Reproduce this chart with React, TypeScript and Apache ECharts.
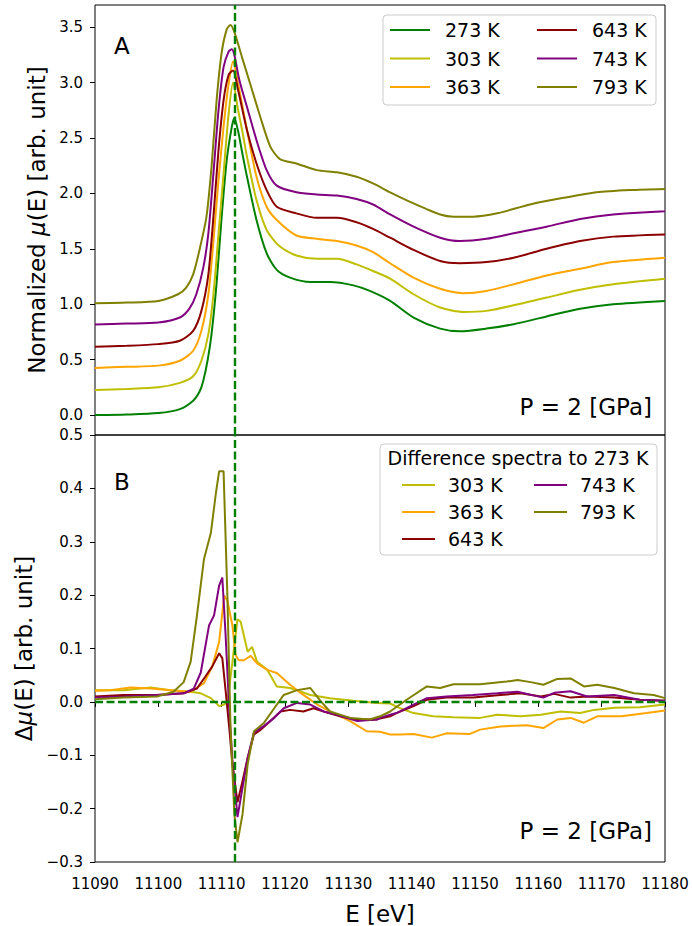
import React, { useEffect, useRef } from "react";
import * as echarts from "echarts";

const FONT = "DejaVu Sans";

const names = ["273 K", "303 K", "363 K", "643 K", "743 K", "793 K"];
const colors = ["#008000", "#bfbf00", "#ffa500", "#8b0000", "#800080", "#808000"];

const xTicks = [11090, 11100, 11110, 11120, 11130, 11140, 11150, 11160, 11170, 11180];
const yTicksTop = [0, 0.5, 1, 1.5, 2, 2.5, 3, 3.5];
const yTicksBottom = [-0.3, -0.2, -0.1, 0, 0.1, 0.2, 0.3, 0.4, 0.5];
const edgeEnergy = 11112;

// Panel A: normalized mu(E)
const mu273: [number, number][] = [[11090,0.00],[11095,0.005],[11100,0.018],[11103.4,0.054],[11105.5,0.13],[11106.5,0.21],[11107.1,0.31],[11107.8,0.50],[11108.4,0.73],[11109.2,1.19],[11110.0,1.79],[11110.8,2.30],[11111.6,2.60],[11112.0,2.68],[11112.6,2.56],[11113.3,2.35],[11114.0,2.15],[11115.5,1.76],[11117.1,1.46],[11118.7,1.31],[11120.8,1.24],[11124,1.20],[11127.1,1.20],[11130.8,1.17],[11133.4,1.12],[11136.6,1.03],[11140.3,0.88],[11144.5,0.78],[11147.6,0.756],[11151.8,0.78],[11156.1,0.82],[11161.3,0.89],[11166.6,0.96],[11171.8,1.00],[11180,1.03]];
const mu303: [number, number][] = [[11090,0.226],[11095,0.235],[11100,0.25],[11103.4,0.29],[11105.5,0.35],[11106.8,0.49],[11107.9,0.73],[11108.7,1.09],[11109.5,1.63],[11110.3,2.18],[11111.1,2.72],[11111.8,3.00],[11112.6,2.75],[11113.3,2.55],[11114,2.33],[11115.5,1.94],[11117.1,1.67],[11119.2,1.52],[11121.8,1.44],[11125,1.41],[11128.2,1.41],[11131.3,1.36],[11133.9,1.30],[11136.6,1.23],[11140.3,1.09],[11144.5,0.97],[11148.2,0.93],[11151.8,0.94],[11156.1,0.99],[11161.3,1.06],[11166.6,1.13],[11171.8,1.18],[11180,1.23]];
const mu363: [number, number][] = [[11090,0.425],[11095,0.435],[11100,0.446],[11103.4,0.49],[11105.5,0.58],[11106.8,0.76],[11107.9,1.09],[11108.7,1.57],[11109.5,2.12],[11110.3,2.60],[11111.1,2.99],[11111.8,3.19],[11112.6,2.99],[11113.3,2.78],[11114,2.57],[11115.5,2.15],[11117.1,1.88],[11118.7,1.76],[11121.8,1.62],[11125,1.59],[11128.2,1.57],[11131.3,1.53],[11133.9,1.47],[11136.6,1.37],[11140.3,1.24],[11144.5,1.14],[11148.2,1.10],[11151.8,1.12],[11156.1,1.18],[11161.3,1.26],[11166.6,1.32],[11171.8,1.38],[11180,1.42]];
const mu643: [number, number][] = [[11090,0.617],[11095,0.625],[11100,0.64],[11103.4,0.67],[11105.5,0.76],[11106.8,0.94],[11107.9,1.27],[11108.7,1.79],[11109.5,2.39],[11110.3,2.84],[11111.1,3.07],[11111.8,3.11],[11112.6,2.93],[11114,2.57],[11115.5,2.27],[11117.1,2.03],[11118.7,1.88],[11121.8,1.82],[11125,1.78],[11128.2,1.78],[11131.3,1.74],[11133.9,1.68],[11136.6,1.60],[11140.3,1.49],[11144.5,1.39],[11147.6,1.37],[11151.8,1.38],[11156.1,1.42],[11161.3,1.50],[11166.6,1.57],[11171.8,1.61],[11180,1.63]];
const mu743: [number, number][] = [[11090,0.816],[11095,0.825],[11100,0.835],[11103.4,0.88],[11104.9,0.96],[11106,1.09],[11107.1,1.33],[11107.9,1.64],[11108.7,2.18],[11109.5,2.75],[11110.3,3.14],[11111.1,3.28],[11111.6,3.30],[11112,3.25],[11112.8,3.02],[11114,2.78],[11115.5,2.48],[11117.1,2.21],[11118.7,2.07],[11121.8,2.01],[11125,1.99],[11128.2,1.98],[11131.3,1.95],[11133.9,1.90],[11136.6,1.81],[11140.3,1.70],[11144.5,1.60],[11147.6,1.57],[11151.8,1.59],[11156.1,1.64],[11161.3,1.70],[11166.6,1.77],[11171.8,1.81],[11180,1.84]];
const mu793: [number, number][] = [[11090,1.009],[11095,1.015],[11100,1.03],[11103.1,1.09],[11104.4,1.15],[11105.5,1.27],[11106.5,1.49],[11107.6,1.79],[11108.4,2.24],[11109.2,2.84],[11110,3.27],[11110.8,3.48],[11111.4,3.52],[11112.1,3.44],[11113.2,3.23],[11114.5,2.99],[11116.1,2.69],[11117.7,2.42],[11119.2,2.31],[11121.8,2.27],[11125,2.21],[11128.2,2.19],[11131.3,2.15],[11133.9,2.09],[11136.6,2.01],[11140.3,1.91],[11144.5,1.81],[11146.6,1.79],[11149.7,1.79],[11153.5,1.82],[11158.7,1.90],[11164,1.96],[11169.2,2.01],[11174.5,2.03],[11180,2.04]];

// Panel B: difference spectra to 273 K
const d303: [number, number][] = [[11090,0.022],[11094.5,0.022],[11098.8,0.027],[11101.9,0.022],[11105.1,0.019],[11106.7,0.016],[11108.3,0.007],[11109.6,-0.008],[11110.4,-0.005],[11110.9,0.0],[11111.7,0.075],[11112.5,0.155],[11113.0,0.150],[11114.1,0.094],[11114.8,0.103],[11115.6,0.075],[11117.2,0.060],[11118.7,0.029],[11120.8,0.026],[11124,0.013],[11127.1,0.007],[11130.8,0.002],[11134.5,-0.002],[11136.6,-0.003],[11138.2,-0.012],[11140.3,-0.021],[11143.4,-0.027],[11146.6,-0.029],[11150.8,-0.030],[11153.5,-0.024],[11157.2,-0.027],[11160.4,-0.024],[11163.5,-0.018],[11166.6,-0.021],[11168.8,-0.015],[11172,-0.011],[11176,-0.010],[11180,-0.005]];
const d363: [number, number][] = [[11090,0.021],[11092.4,0.022],[11095.6,0.027],[11098.8,0.025],[11101.9,0.022],[11105.1,0.019],[11107.2,0.035],[11108.5,0.066],[11109.6,0.112],[11110.4,0.199],[11110.9,0.19],[11111.7,0.143],[11112.2,0.088],[11112.7,0.078],[11113.5,0.078],[11114.6,0.086],[11115.6,0.072],[11117.2,0.060],[11118.7,0.054],[11120.8,0.032],[11122.9,0.013],[11125.1,-0.005],[11127.1,-0.018],[11130.3,-0.036],[11132.9,-0.055],[11135,-0.056],[11136.6,-0.061],[11138.2,-0.061],[11140.3,-0.060],[11143.2,-0.067],[11145.5,-0.059],[11149.2,-0.060],[11150.8,-0.052],[11154,-0.046],[11158.2,-0.044],[11160.8,-0.049],[11163,-0.033],[11165.1,-0.030],[11167.2,-0.039],[11169.3,-0.027],[11173.1,-0.027],[11177.1,-0.021],[11180,-0.016]];
const d643: [number, number][] = [[11090,0.010],[11094.5,0.013],[11099.8,0.013],[11104,0.016],[11106.1,0.025],[11107.4,0.047],[11108.5,0.066],[11109.6,0.091],[11110.1,0.082],[11110.6,0.024],[11111.2,-0.049],[11111.7,-0.117],[11112.5,-0.188],[11113.3,-0.148],[11114.1,-0.105],[11115.1,-0.061],[11116.2,-0.052],[11117.7,-0.036],[11119.3,-0.018],[11120.8,-0.015],[11122.9,-0.018],[11124.5,-0.012],[11126.1,-0.018],[11128.7,-0.027],[11131.4,-0.033],[11134.5,-0.033],[11135,-0.031],[11136.6,-0.027],[11137.6,-0.021],[11140.3,-0.008],[11142.4,0.004],[11145.5,0.008],[11149.7,0.008],[11154,0.013],[11157.2,0.016],[11160.4,0.010],[11162.5,0.015],[11165.1,0.008],[11167.7,0.010],[11172,0.008],[11176,0.004],[11180,0.002]];
const d743: [number, number][] = [[11090,0.008],[11094.5,0.010],[11099.8,0.013],[11104,0.016],[11105.6,0.025],[11106.7,0.055],[11108,0.143],[11108.8,0.162],[11109.6,0.218],[11110.1,0.233],[11110.6,0.13],[11111.2,-0.015],[11111.7,-0.111],[11112.5,-0.216],[11113.3,-0.160],[11114.1,-0.105],[11115.1,-0.057],[11116.7,-0.045],[11118.3,-0.030],[11119.8,-0.012],[11121.9,-0.002],[11124,-0.005],[11126.1,-0.018],[11128.2,-0.024],[11131.4,-0.036],[11134.5,-0.033],[11135,-0.030],[11136.6,-0.024],[11137.6,-0.021],[11140.3,-0.005],[11142.4,0.007],[11145.5,0.010],[11149.7,0.013],[11153.5,0.016],[11156.7,0.019],[11160.8,0.008],[11162.5,0.017],[11165.1,0.020],[11167.7,0.010],[11172,0.013],[11176,0.004],[11180,0.002]];
const d793: [number, number][] = [[11090,0.005],[11094.5,0.008],[11099.8,0.010],[11102.4,0.019],[11104,0.037],[11105.1,0.075],[11106.1,0.162],[11107.2,0.267],[11108.3,0.317],[11109.1,0.392],[11109.6,0.432],[11110.3,0.432],[11110.9,0.20],[11111.4,-0.049],[11112,-0.21],[11112.5,-0.263],[11113.3,-0.21],[11114.1,-0.117],[11115.1,-0.055],[11116.7,-0.039],[11118.3,-0.012],[11119.8,0.013],[11121.9,0.022],[11124,0.026],[11125.6,0.002],[11127.1,-0.018],[11130.3,-0.030],[11133.4,-0.033],[11135,-0.027],[11136.6,-0.018],[11139.2,0.004],[11142.4,0.029],[11144.5,0.026],[11146.6,0.033],[11150.8,0.033],[11155,0.038],[11156.7,0.041],[11158.8,0.037],[11160.8,0.032],[11163,0.043],[11165.1,0.044],[11167.2,0.029],[11169.3,0.032],[11172,0.026],[11175.1,0.016],[11178.2,0.013],[11180,0.007]];

const topData = [mu273, mu303, mu363, mu643, mu743, mu793];
const bottomData = [d303, d363, d643, d743, d793];

const fmt = (v: number) => {
  const s = (Math.abs(v) < 1e-9 ? 0 : v).toFixed(1);
  return s.replace("-", "\u2212");
};

export default function App() {
  const ref = useRef<HTMLDivElement>(null);
  useEffect(() => {
    document.body.style.margin = "0";
    if (!ref.current) return;
    const chart = echarts.init(ref.current, undefined, { renderer: "svg" });

    const dash = [8, 3.5];
    const markStyle = { color: "#008000", width: 2.4, type: dash, opacity: 1 };
    const LW = 2;

    const series: any[] = [];
    topData.forEach((d, i) => {
      series.push({
        type: "line",
        name: names[i],
        xAxisIndex: 0,
        yAxisIndex: 0,
        data: d,
        symbol: "none",
        smooth: 0.25,
        lineStyle: { color: colors[i], width: LW },
        itemStyle: { color: colors[i] },
        z: 2,
        ...(i === topData.length - 1
          ? {
              markLine: {
                silent: true,
                symbol: "none",
                label: { show: false },
                emphasis: { disabled: true },
                lineStyle: markStyle,
                data: [{ xAxis: edgeEnergy }],
              },
            }
          : {}),
      });
    });
    bottomData.forEach((d, j) => {
      const i = j + 1;
      series.push({
        type: "line",
        name: names[i],
        xAxisIndex: 1,
        yAxisIndex: 1,
        data: d,
        symbol: "none",
        lineStyle: { color: colors[i], width: LW },
        itemStyle: { color: colors[i] },
        z: 2,
        ...(j === bottomData.length - 1
          ? {
              markLine: {
                silent: true,
                symbol: "none",
                label: { show: false },
                emphasis: { disabled: true },
                lineStyle: markStyle,
                data: [{ xAxis: edgeEnergy }, { yAxis: 0 }],
              },
            }
          : {}),
      });
    });

    const baseText = { fontFamily: FONT, color: "#000" };
    const legendBase = (data: string[], left: number, top: number, iw: number, gap: number, pad: number, fs: number) => ({
      data,
      orient: "vertical",
      left,
      top,
      padding: 0,
      icon: "rect",
      itemWidth: iw,
      itemHeight: 2,
      itemGap: gap,
      selectedMode: false,
      z: 6,
      textStyle: { ...baseText, fontSize: fs, lineHeight: 20, padding: [0, 0, 0, pad] },
    });

    const yAxisCommon = {
      type: "value",
      splitLine: { show: false },
      axisLine: { show: false },
      axisTick: { show: true, length: 5, lineStyle: { color: "#000" } },
      axisLabel: { ...baseText, fontSize: 15, margin: 12, formatter: fmt },
      nameLocation: "middle",
      nameRotate: 90,
      nameTextStyle: { ...baseText, fontSize: 23 },
    };

    chart.setOption({
      animation: false,
      backgroundColor: "#fff",
      grid: [
        { left: 95, top: 5, width: 570, height: 430, show: true, borderColor: "#000", borderWidth: 1, backgroundColor: "transparent" },
        { left: 95, top: 435, width: 570, height: 430, show: true, borderColor: "#000", borderWidth: 1, backgroundColor: "transparent" },
      ],
      xAxis: [
        {
          type: "value",
          gridIndex: 0,
          min: 11090,
          max: 11180,
          interval: 10,
          splitLine: { show: false },
          axisLine: { show: false },
          axisTick: { show: false },
          axisLabel: { show: false },
        },
        {
          type: "value",
          gridIndex: 1,
          min: 11090,
          max: 11180,
          interval: 10,
          splitLine: { show: false },
          axisLine: { show: false },
          axisTick: { show: true, length: 5, lineStyle: { color: "#000" }, customValues: xTicks },
          axisLabel: { ...baseText, fontSize: 15, margin: 14, customValues: xTicks, formatter: (v: number) => String(v) },
          name: "E [eV]",
          nameLocation: "middle",
          nameGap: 40,
          nameTextStyle: { ...baseText, fontSize: 23 },
        },
      ],
      yAxis: [
        {
          ...yAxisCommon,
          gridIndex: 0,
          min: -0.18,
          max: 3.7,
          axisTick: { ...yAxisCommon.axisTick, customValues: yTicksTop },
          axisLabel: { ...yAxisCommon.axisLabel, customValues: yTicksTop },
          name: "Normalized {i|\u03bc}(E) [arb. unit]",
          nameGap: 46,
          nameTextStyle: {
            ...baseText,
            fontSize: 23,
            rich: { i: { fontFamily: FONT, fontSize: 23, fontStyle: "italic", color: "#000" } },
          },
        },
        {
          ...yAxisCommon,
          gridIndex: 1,
          min: -0.3,
          max: 0.5,
          axisTick: { ...yAxisCommon.axisTick, customValues: yTicksBottom },
          axisLabel: { ...yAxisCommon.axisLabel, customValues: yTicksBottom },
          name: "\u0394{i|\u03bc}(E) [arb. unit]",
          nameGap: 46,
          nameTextStyle: {
            ...baseText,
            fontSize: 23,
            rich: { i: { fontFamily: FONT, fontSize: 23, fontStyle: "italic", color: "#000" } },
          },
        },
      ],
      legend: [
        legendBase([names[0], names[1], names[2]], 390, 20, 40, 8.5, 10, 19),
        legendBase([names[3], names[4], names[5]], 537, 20, 40, 8.5, 10, 19),
        legendBase([names[1], names[2], names[3]], 402, 475, 33, 7, 8, 19),
        legendBase([names[4], names[5]], 534, 475, 33, 7, 8, 19),
      ],
      graphic: [
        { type: "rect", z: 5, shape: { x: 383, y: 15, width: 273, height: 90, r: 4 }, style: { fill: "rgba(255,255,255,0.8)", stroke: "#cccccc", lineWidth: 1 } },
        { type: "rect", z: 5, shape: { x: 380, y: 444, width: 277, height: 111, r: 4 }, style: { fill: "rgba(255,255,255,0.8)", stroke: "#cccccc", lineWidth: 1 } },
        { type: "text", z: 6, style: { text: "Difference spectra to 273 K", x: 518, y: 458, textAlign: "center", textVerticalAlign: "middle", font: `19px '${FONT}'`, fill: "#000" } },
        { type: "text", z: 6, style: { text: "A", x: 114, y: 46, textAlign: "left", textVerticalAlign: "middle", font: `23px '${FONT}'`, fill: "#000" } },
        { type: "text", z: 6, style: { text: "B", x: 114, y: 482, textAlign: "left", textVerticalAlign: "middle", font: `23px '${FONT}'`, fill: "#000" } },
        { type: "text", z: 6, style: { text: "P = 2 [GPa]", x: 652, y: 407, textAlign: "right", textVerticalAlign: "middle", font: `23px '${FONT}'`, fill: "#000" } },
        { type: "text", z: 6, style: { text: "P = 2 [GPa]", x: 652, y: 831, textAlign: "right", textVerticalAlign: "middle", font: `23px '${FONT}'`, fill: "#000" } },
      ],
      series,
    });
    return () => chart.dispose();
  }, []);
  return <div ref={ref} style={{ width: 692, height: 926 }} />;
}
